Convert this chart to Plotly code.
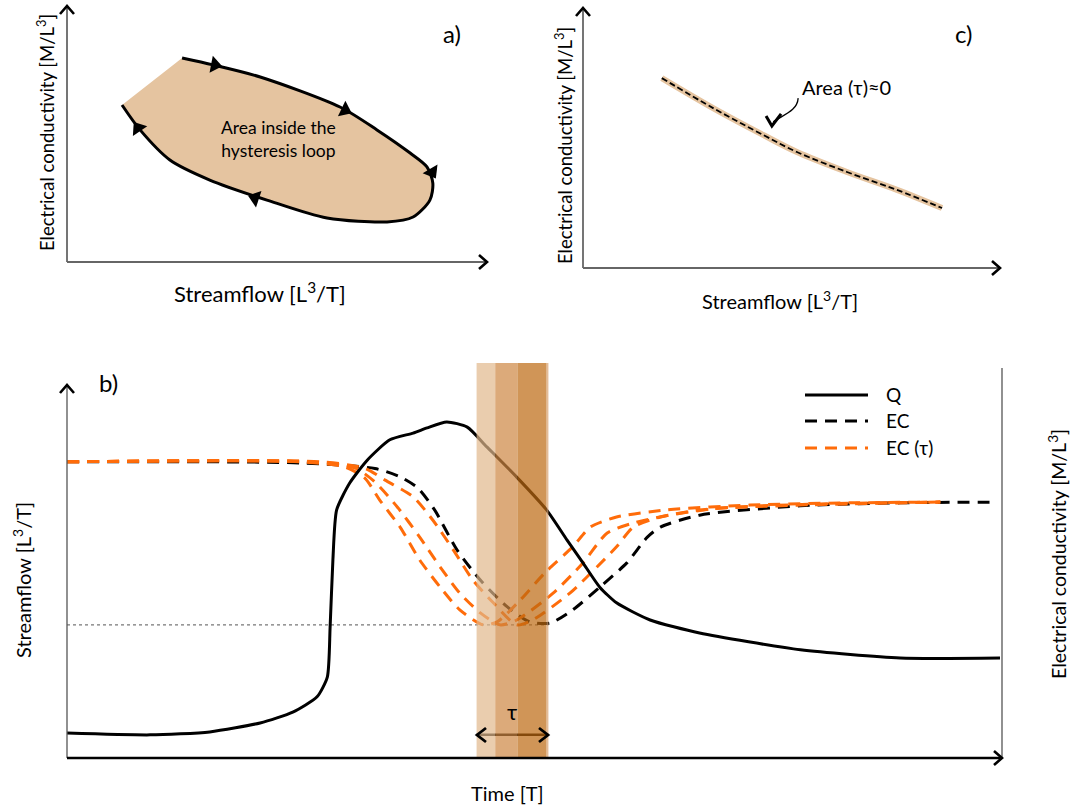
import plotly.graph_objects as go

# ---------------- data ----------------
# panel a: hysteresis loop (streamflow, EC) in arbitrary units
loop_q = [27.4, 34.8, 46.0, 65.0, 73.8, 81.7, 85.7, 87.1, 86.4, 82.4, 76.2, 61.9, 47.6, 34.0, 24.5, 17.4, 13.1]
loop_ec = [79.4, 76.7, 72.0, 60.3, 51.4, 42.4, 37.0, 30.7, 24.1, 17.5, 15.6, 17.1, 24.1, 31.9, 39.7, 51.4, 61.1]
# direction markers on the loop: (tail, tip)
loop_arrow_q = [(31.7, 35.2), (62.6, 66.2), (85.2, 86.9), (48.3, 44.8), (18.8, 16.9)]
loop_arrow_ec = [(77.8, 76.7), (61.9, 59.1), (39.7, 35.0), (23.0, 24.9), (47.5, 52.1)]

# panel c: loop with area ~ 0
flat_q = [18.9, 31.2, 43.2, 51.3, 63.3, 75.3, 86.1]
flat_ec = [72.2, 60.8, 50.6, 44.1, 36.5, 29.7, 22.8]

# panel b: time series
q_t = [0, 8.9, 15.3, 20.7, 24.2, 26.8, 27.9, 28.2, 28.5, 28.9, 30.3, 32.2, 34.6, 37.1, 38.6, 40.7,
       42.9, 45.0, 48.2, 51.4, 53.6, 55.3, 57.1, 58.9, 62.5, 67.8, 78.6, 89.3, 100]
q_v = [6.7, 6.2, 7.0, 9.4, 12.3, 16.4, 21.7, 35.1, 53.1, 66.5, 73.7, 79.9, 85.3, 87.1, 88.5, 90.1,
       88.7, 83.4, 75.3, 66.5, 58.4, 52.3, 45.8, 41.6, 37.0, 33.5, 29.0, 26.8, 26.8]

ec_t = [0, 25, 33.0, 35.6, 37.6, 39.4, 41.8, 44.3, 47.2, 49.6, 51.8, 54.2, 57.1, 60.0, 62.2, 63.6, 67.8, 78.6, 89.3, 99.5]
ec_v = [79.4, 79.1, 77.6, 75.5, 72.4, 66.5, 55.8, 47.7, 40.5, 36.5, 36.2, 39.7, 45.8, 52.3, 59.2, 61.9, 65.1, 67.6, 68.4, 68.6]

ect1_t = [0, 25.0, 29.8, 31.9, 33.5, 35.7, 37.8, 40.0, 42.1, 44.6, 46.1, 48.6, 51.2, 54.2, 56.1, 58.9, 64.3, 73.2, 83.9, 93.6]
ect1_v = [79.4, 79.4, 78.0, 75.1, 69.2, 61.9, 53.1, 45.8, 39.7, 35.7, 36.5, 42.4, 49.6, 56.6, 61.9, 64.6, 66.5, 67.8, 68.4, 68.6]

ect2_t = [0, 26.0, 30.9, 33.0, 35.4, 37.8, 40.0, 42.1, 44.3, 46.4, 48.2, 52.1, 55.3, 57.9, 60.7, 67.8, 78.6, 93.6]
ect2_v = [79.4, 79.4, 77.7, 74.0, 67.3, 59.2, 51.2, 44.2, 38.9, 35.7, 37.0, 44.2, 52.3, 60.3, 63.0, 66.5, 67.8, 68.6]

ect3_t = [0, 27.1, 31.9, 34.1, 37.1, 39.2, 41.4, 43.5, 45.7, 48.2, 49.9, 53.9, 56.8, 58.9, 60.7, 63.6, 70.0, 80.7, 93.6]
ect3_v = [79.4, 79.4, 77.7, 74.5, 70.0, 63.8, 55.8, 47.7, 41.6, 35.7, 37.0, 44.2, 51.2, 56.6, 61.9, 64.6, 67.0, 68.1, 68.6]

ec_min = 35.7                                  # minimum EC level (dotted line)
tau_edges = [43.9, 45.9, 48.3, 51.4, 51.6]     # shaded lag bands
tau_colors = ["rgb(225,184,139)", "rgb(205,134,66)", "rgb(188,104,16)", "rgb(215,160,110)"]
tau_arrow_t = [43.9, 51.6]
tau_arrow_v = 6.2

FONT = "Lato"
ORANGE = "#ff6c0a"
DASH = "12px,8px"
W, H = 1070, 810


def P(x, y):
    """pixel -> paper fraction (for decorations only)"""
    return x / W, 1 - y / H


fig = go.Figure()

# ---------------- panel a ----------------
fig.add_trace(go.Scatter(x=loop_q, y=loop_ec, fill="toself", fillcolor="#e5c4a0",
                         mode="lines", line=dict(width=0, shape="spline"),
                         xaxis="x", yaxis="y", showlegend=False, hoverinfo="skip"))
fig.add_trace(go.Scatter(x=loop_q, y=loop_ec, mode="lines",
                         line=dict(color="black", width=3, shape="spline", smoothing=0.8),
                         xaxis="x", yaxis="y", showlegend=False, hoverinfo="skip"))
for qq, ee in zip(loop_arrow_q, loop_arrow_ec):
    fig.add_trace(go.Scatter(x=list(qq), y=list(ee), mode="markers",
                             marker=dict(symbol="triangle-up", size=[0, 15], color="black", opacity=1,
                                         angleref="previous", line=dict(width=0)),
                             xaxis="x", yaxis="y", showlegend=False, hoverinfo="skip"))

# ---------------- panel c ----------------
fig.add_trace(go.Scatter(x=flat_q, y=flat_ec, mode="lines",
                         line=dict(color="#e5c4a0", width=6, shape="spline", smoothing=1.0),
                         xaxis="x2", yaxis="y2", showlegend=False, hoverinfo="skip"))
fig.add_trace(go.Scatter(x=flat_q, y=flat_ec, mode="lines",
                         line=dict(color="black", width=1.8, shape="spline", smoothing=1.0, dash="6px,3px"),
                         xaxis="x2", yaxis="y2", showlegend=False, hoverinfo="skip"))

# ---------------- panel b ----------------
fig.add_trace(go.Scatter(x=[0, tau_edges[-1]], y=[ec_min, ec_min], mode="lines",
                         line=dict(color="#777", width=1.3, dash="dot"),
                         xaxis="x3", yaxis="y3", showlegend=False, hoverinfo="skip"))
fig.add_trace(go.Scatter(x=ec_t, y=ec_v, mode="lines",
                         line=dict(color="black", width=3, dash=DASH, shape="spline", smoothing=0.7),
                         xaxis="x3", yaxis="y3", showlegend=False, hoverinfo="skip"))
for tt, vv in [(ect3_t, ect3_v), (ect2_t, ect2_v), (ect1_t, ect1_v)]:
    fig.add_trace(go.Scatter(x=tt, y=vv, mode="lines",
                             line=dict(color=ORANGE, width=3, dash=DASH, shape="spline", smoothing=0.7),
                             xaxis="x3", yaxis="y3", showlegend=False, hoverinfo="skip"))
fig.add_trace(go.Scatter(x=q_t, y=q_v, mode="lines",
                         line=dict(color="black", width=3, shape="spline", smoothing=0.6),
                         xaxis="x3", yaxis="y3", showlegend=False, hoverinfo="skip"))
fig.add_trace(go.Scatter(x=tau_arrow_t, y=[tau_arrow_v, tau_arrow_v], mode="lines",
                         line=dict(color="black", width=2.5),
                         xaxis="x3", yaxis="y3", showlegend=False, hoverinfo="skip"))

shapes = []
for i in range(len(tau_edges) - 1):
    shapes.append(dict(type="rect", xref="x3", yref="y3", x0=tau_edges[i], x1=tau_edges[i + 1],
                       y0=0, y1=105.9, fillcolor=tau_colors[i], opacity=0.7,
                       line=dict(width=0), layer="above"))


def pline(x0, y0, x1, y1, color="#666", width=1.8, dash="solid"):
    a, b = P(x0, y0)
    c, d = P(x1, y1)
    shapes.append(dict(type="line", xref="paper", yref="paper", x0=a, y0=b, x1=c, y1=d,
                       line=dict(color=color, width=width, dash=dash)))


def chevron(x, y, direction, size=7, length=8, width=2.6):
    if direction == "up":
        pts = [(x - size, y + length), (x, y), (x + size, y + length)]
    elif direction == "right":
        pts = [(x - length, y - size), (x, y), (x - length, y + size)]
    else:  # left
        pts = [(x + length, y - size), (x, y), (x + length, y + size)]
    conv = [P(px, py) for px, py in pts]
    path = "M {},{} L {},{} L {},{}".format(conv[0][0], conv[0][1], conv[1][0], conv[1][1],
                                           conv[2][0], conv[2][1])
    shapes.append(dict(type="path", xref="paper", yref="paper", path=path,
                       line=dict(color="black", width=width)))


# axes (decorations)
pline(67, 262, 67, 8)
pline(67, 262, 485, 262)
chevron(67, 6, "up")
chevron(487, 262, "right")

pline(583, 268, 583, 10)
pline(583, 268, 998, 268)
chevron(583, 8, "up")
chevron(1000, 268, "right")

pline(67, 758, 67, 387, color="#555", width=1.3)
pline(67, 758, 1000, 758, color="black", width=2.5)
pline(1002, 758, 1002, 368, color="#555", width=1.3)
chevron(67, 385, "up")
chevron(1002, 758, "right")

# tau arrow heads
chevron(477, 735, "left", size=7, length=9, width=2.8)
chevron(548, 735, "right", size=7, length=9, width=2.8)

# curly pointer in panel c
shapes.append(dict(type="path", xref="x2", yref="y2",
                   path="M 51.6,64.6 C 51.4,60.0 48.6,58.6 45.6,55.6",
                   line=dict(color="black", width=1.3)))
shapes.append(dict(type="path", xref="x2", yref="y2",
                   path="M 43.9,57.8 L 45.3,54.0 L 47.5,58.6",
                   line=dict(color="black", width=3)))

annotations = []
# legend (panel b)
leg_items = [("Q", "black", "solid", 395), ("EC", "black", DASH, 421), ("EC (τ)", ORANGE, DASH, 448)]
for name, col, dsh, yy in leg_items:
    pline(805, yy, 868, yy, color=col, width=3, dash=dsh)
    lx, ly = P(884, yy)
    annotations.append(dict(x=lx, y=ly, xref="paper", yref="paper", text=name, showarrow=False,
                            xanchor="left", yanchor="middle", font=dict(size=19, color="black", family=FONT)))

annotations.append(dict(x=47.7, y=12.6, xref="x3", yref="y3", text="τ", showarrow=False,
                        font=dict(size=22, color="black", family=FONT)))


def label(text, x, y, size=17, angle=0):
    px, py = P(x, y)
    annotations.append(dict(x=px, y=py, xref="paper", yref="paper", text=text, showarrow=False,
                            xanchor="center", yanchor="middle", textangle=angle,
                            font=dict(size=size, color="black", family=FONT)))


label("Electrical conductivity [M/L<sup>3</sup>]", 45, 133, size=18.5, angle=-90)
label("Streamflow [L<sup>3</sup>/T]", 260, 292, size=22)
label("Electrical conductivity [M/L<sup>3</sup>]", 563, 146, size=18.5, angle=-90)
label("Streamflow [L<sup>3</sup>/T]", 780, 300, size=20)
label("Streamflow [L<sup>3</sup>/T]", 22, 580, size=20, angle=-90)
label("Electrical conductivity [M/L<sup>3</sup>]", 1057, 554, size=19.5, angle=-90)
label("Time [T]", 507, 793, size=20)
label("a)", 452, 33, size=24)
label("b)", 108, 383, size=24)
label("c)", 963, 33, size=24)
annotations.append(dict(x=50.4, y=48.0, xref="x", yref="y", text="Area inside the<br>hysteresis loop",
                        showarrow=False, align="center", font=dict(size=17.5, color="black", family=FONT)))
annotations.append(dict(x=63.3, y=69.0, xref="x2", yref="y2", text="Area (τ)≈0",
                        showarrow=False, font=dict(size=20, color="black", family=FONT)))

hidden = dict(visible=False, fixedrange=True)
fig.update_layout(
    width=W, height=H, margin=dict(l=0, r=0, t=0, b=0),
    paper_bgcolor="white", plot_bgcolor="rgba(0,0,0,0)",
    font=dict(family=FONT),
    xaxis=dict(domain=[0.06262, 0.45514], range=[0, 100], anchor="y", **hidden),
    yaxis=dict(domain=[0.67654, 0.99383], range=[0, 100], anchor="x", **hidden),
    xaxis2=dict(domain=[0.54486, 0.93458], range=[0, 100], anchor="y2", **hidden),
    yaxis2=dict(domain=[0.66914, 0.99383], range=[0, 100], anchor="x2", **hidden),
    xaxis3=dict(domain=[0.06262, 0.93458], range=[0, 100], anchor="y3", **hidden),
    yaxis3=dict(domain=[0.0642, 0.5519], range=[0, 105.9], anchor="x3", **hidden),
    shapes=shapes, annotations=annotations, showlegend=False,
)

fig.write_html("out.html")
